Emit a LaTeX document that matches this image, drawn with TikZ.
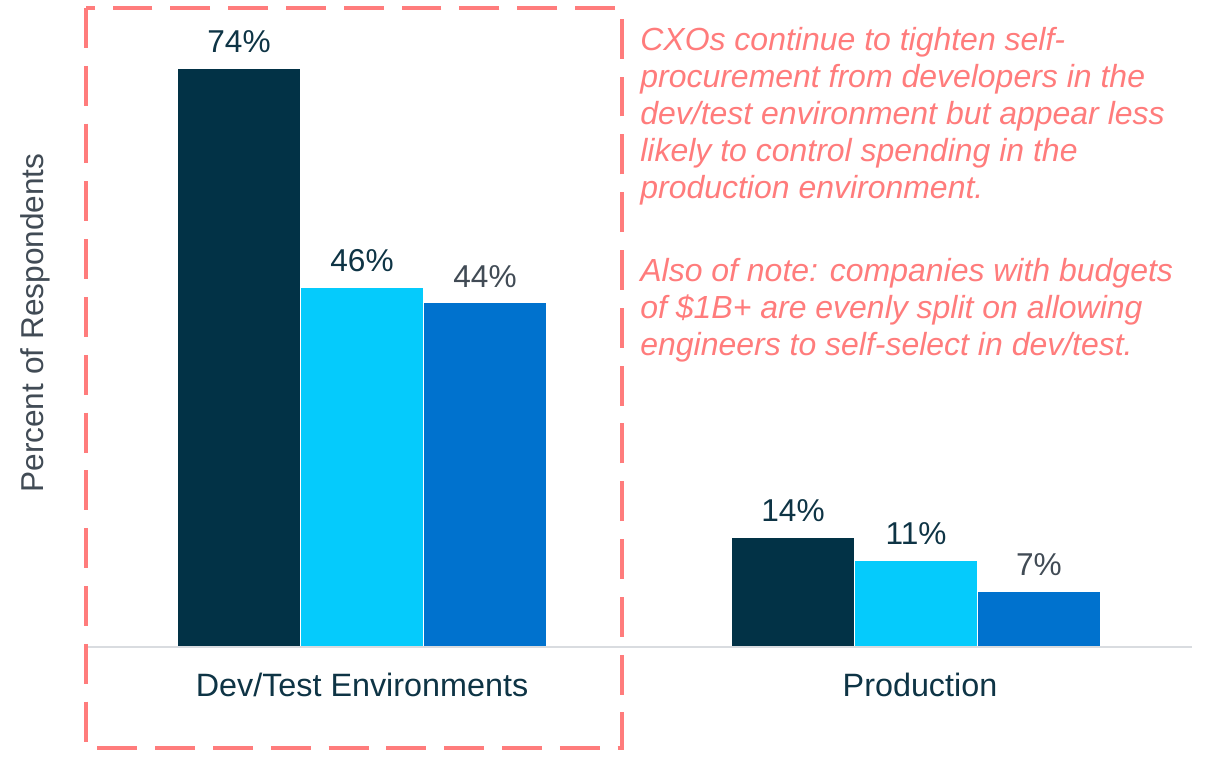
\documentclass[tikz,border=0pt]{standalone}
\usepackage{fontspec}
\setmainfont{Liberation Sans}
\usepackage{xcolor}
\usetikzlibrary{positioning}
\definecolor{barnavy}{HTML}{023246}
\definecolor{barcyan}{HTML}{05CBFC}
\definecolor{barblue}{HTML}{0072CE}
\definecolor{txtnavy}{HTML}{0E3445}
\definecolor{txtslate}{HTML}{414B55}
\definecolor{salmon}{HTML}{FF7C7C}
\definecolor{axisgray}{HTML}{D9DCE0}

\begin{document}
\begin{tikzpicture}[x=0.02cm,y=-0.02cm,
    bar/.style={fill=#1, minimum width=2.46cm, anchor=south, inner sep=0pt, outer sep=0pt},
    pct/.style={text=#1, font=\fontsize{18}{21}\selectfont, inner sep=0pt},
    catlbl/.style={text=txtnavy, font=\fontsize{18.4}{21}\selectfont},
    note/.style={text=salmon, font=\fontsize{18.2}{21}\selectfont\itshape, align=left, inner sep=0pt, anchor=north west},
    callout/.style={draw=salmon, line width=2.8pt, dash pattern=on 22.7pt off 10.2pt},
    axis/.style={draw=axisgray, line width=0.9pt}]
    \useasboundingbox (0,0) rectangle (1205,758);
    \foreach \n/\x/\v/\c/\t in {d1/239/74/barnavy/txtnavy, d2/362/46/barcyan/txtnavy, d3/485/44/barblue/txtslate,
                                p1/793/14/barnavy/txtnavy, p2/916/11/barcyan/txtnavy, p3/1039/7/barblue/txtslate} {
        \node[bar=\c, minimum height=\v*0.1562cm] (\n) at (\x,647) {};
        \node[pct=\t, above=9pt of \n] (\n lbl) {\v\%};
    }
    \coordinate (axl) at (85,647);
    \coordinate (axr) at (1192,647);
    \draw[axis] (axl) -- (axr);
    \node[catlbl] (devtest) at (362,685) {Dev/Test Environments};
    \node[catlbl] (prod) at (920,685) {Production};
    \node[text=txtslate, font=\fontsize{18}{21}\selectfont, rotate=90] (ylab) at (35,323) {Percent of Respondents};
    \draw[callout] (86,8) rectangle (622,748);
    \node[note] (note1) at (640,27) {CXOs continue to tighten self-\\procurement from developers in the\\dev/test environment but appear less\\likely to control spending in the\\production environment.};
    \node[note, below=30pt of note1.south west, anchor=north west] (note2) {Also of note: companies with budgets\\of \$1B+ are evenly split on allowing\\engineers to self-select in dev/test.};
\end{tikzpicture}
\end{document}
